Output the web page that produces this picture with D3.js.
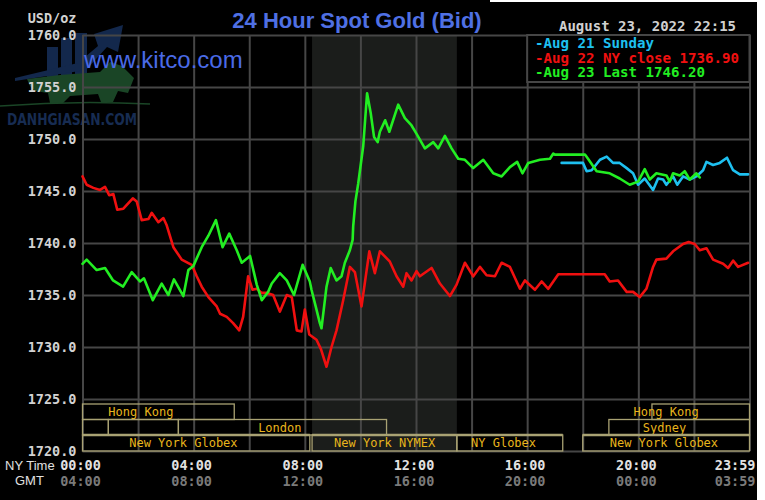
<!DOCTYPE html>
<html><head><meta charset="utf-8">
<script src="https://cdn.jsdelivr.net/npm/d3@7"></script>
<style>html,body{margin:0;padding:0;background:#fff;} svg{display:block}</style>
</head><body><svg id="c" width="765" height="500"></svg>
<script>
// ---------------- DATA ----------------
const yTicks = [1720, 1725, 1730, 1735, 1740, 1745, 1750, 1755, 1760];
const gridHours = [0, 2, 4, 6, 8, 10, 12, 14, 16, 18, 20, 22, 24];
const nyTimeLabels = [[0, "00:00"], [4, "04:00"], [8, "08:00"], [12, "12:00"], [16, "16:00"], [20, "20:00"], [24, "23:59"]];
const gmtLabels = [[0, "04:00"], [4, "08:00"], [8, "12:00"], [12, "16:00"], [16, "20:00"], [20, "00:00"], [24, "03:59"]];
const legendItems = [
  ["-Aug 21 Sunday", "#1ec0f0"],
  ["-Aug 22 NY close 1736.90", "#f01010"],
  ["-Aug 23 Last 1746.20", "#22ee22"]
];
const nymexHours = [8.26, 13.47];

// [hour (NY time), price]
const aug23 = [[0,1738.0],[0.15,1738.4],[0.51,1737.4],[0.81,1737.6],[1.10,1736.4],[1.46,1735.8],[1.77,1737.2],[2.07,1736.3],[2.21,1736.6],[2.53,1734.5],[2.85,1736.1],[3.09,1735.0],[3.29,1736.5],[3.63,1734.9],[3.81,1737.4],[3.99,1737.8],[4.29,1739.6],[4.53,1740.7],[4.80,1742.2],[5.04,1739.6],[5.28,1740.9],[5.55,1739.3],[5.73,1738.1],[6.03,1738.75],[6.27,1736.0],[6.45,1734.5],[6.68,1735.3],[6.81,1736.1],[7.10,1737.1],[7.35,1736.4],[7.61,1735.0],[7.92,1737.9],[8.18,1736.3],[8.24,1735.5],[8.42,1733.6],[8.54,1732.3],[8.60,1731.8],[8.78,1735.8],[8.93,1737.6],[9.14,1736.4],[9.32,1736.8],[9.44,1738.1],[9.62,1739.3],[9.72,1740.3],[9.74,1741.6],[9.82,1744.0],[9.92,1745.7],[10.10,1749.3],[10.24,1754.4],[10.37,1752.5],[10.49,1750.2],[10.62,1749.7],[10.70,1750.7],[10.89,1751.8],[11.04,1750.7],[11.36,1753.3],[11.60,1752.0],[11.84,1751.3],[12.02,1750.5],[12.32,1749.1],[12.62,1749.7],[12.80,1749.1],[13.04,1750.3],[13.28,1749.1],[13.52,1748.1],[13.76,1748.0],[14.06,1747.2],[14.42,1748.0],[14.78,1746.7],[15.08,1746.4],[15.38,1747.3],[15.64,1747.8],[15.83,1746.7],[16.04,1747.7],[16.46,1748.0],[16.82,1748.1],[16.94,1748.6],[17.00,1748.5],[18.08,1748.5],[18.19,1748.1],[18.50,1746.9],[18.97,1746.7],[19.33,1746.2],[19.69,1745.6],[19.99,1745.9],[20.23,1747.1],[20.41,1746.1],[20.65,1746.7],[21.01,1746.5],[21.13,1745.9],[21.25,1746.7],[21.49,1746.5],[21.67,1746.9],[21.85,1746.1],[22.09,1746.7],[22.21,1746.3]];

const aug22 = [[0,1746.4],[0.15,1745.6],[0.39,1745.3],[0.63,1745.1],[0.81,1745.4],[0.96,1744.6],[1.11,1744.7],[1.25,1743.2],[1.47,1743.3],[1.81,1744.3],[1.95,1744.0],[2.13,1742.2],[2.37,1742.3],[2.49,1742.9],[2.73,1742.0],[2.91,1742.4],[3.03,1741.7],[3.27,1739.6],[3.57,1738.4],[3.93,1737.9],[4.11,1736.8],[4.29,1735.8],[4.53,1734.8],[4.83,1733.9],[4.95,1733.2],[5.19,1732.9],[5.42,1732.3],[5.64,1731.6],[5.78,1732.9],[5.96,1736.8],[6.12,1735.5],[6.27,1735.6],[6.45,1735.2],[6.63,1735.2],[6.86,1735.0],[7.10,1733.4],[7.35,1735.0],[7.53,1734.8],[7.71,1731.6],[7.88,1731.5],[8.00,1733.6],[8.16,1731.2],[8.42,1730.7],[8.58,1729.8],[8.78,1728.1],[8.96,1730.0],[9.14,1731.6],[9.38,1734.5],[9.62,1737.7],[9.80,1737.2],[10.04,1733.9],[10.32,1739.2],[10.52,1737.1],[10.70,1739.2],[11.06,1738.2],[11.30,1736.8],[11.54,1735.8],[11.66,1737.1],[11.84,1736.4],[12.02,1737.3],[12.14,1736.8],[12.56,1737.6],[12.86,1736.1],[13.22,1734.9],[13.46,1736.0],[13.76,1738.1],[14.06,1736.8],[14.30,1737.7],[14.54,1736.9],[14.84,1736.8],[15.08,1738.1],[15.38,1737.7],[15.74,1735.6],[15.92,1736.4],[16.28,1735.5],[16.52,1736.3],[16.76,1735.6],[17.12,1737.0],[18.79,1737.0],[18.97,1736.3],[19.27,1736.4],[19.58,1735.3],[19.81,1735.3],[20.05,1734.8],[20.29,1735.6],[20.53,1737.7],[20.65,1738.4],[21.01,1738.5],[21.25,1739.2],[21.61,1739.9],[21.81,1740.1],[22.03,1739.9],[22.21,1739.3],[22.45,1739.5],[22.69,1738.4],[23.05,1738.0],[23.23,1737.6],[23.41,1738.3],[23.59,1737.7],[23.95,1738.1]];

const aug21 = [[17.24,1747.7],[18.01,1747.7],[18.14,1746.9],[18.32,1747.0],[18.62,1748.0],[18.86,1748.3],[19.09,1747.7],[19.33,1747.7],[19.58,1747.2],[19.81,1746.7],[19.99,1745.6],[20.23,1746.2],[20.53,1745.1],[20.71,1746.2],[20.89,1746.1],[21.01,1745.6],[21.25,1746.4],[21.40,1745.6],[21.61,1746.4],[21.85,1746.1],[22.09,1746.4],[22.33,1747.0],[22.45,1747.8],[22.69,1747.5],[22.93,1747.7],[23.19,1748.2],[23.41,1747.0],[23.65,1746.6],[23.95,1746.6]];

// trading sessions: [row, start hour, end hour, label, label hour]
const sessions = [
  [0, 0, 5.46, "Hong Kong", 2.1],
  [0, 20.49, 24, "Hong Kong", 21.0],
  [1, 0, 0.93, "", 0],
  [1, 0.93, 3.45, "", 0],
  [1, 3.45, 10.94, "London", 7.1],
  [1, 18.94, 24, "Sydney", 20.94],
  [2, 0, 8.18, "New York Globex", 3.63],
  [2, 8.26, 13.47, "New York NYMEX", 10.87],
  [2, 13.47, 17.28, "NY Globex", 15.15],
  [2, 18.0, 24, "New York Globex", 20.92]
];

// ---------------- DRAW ----------------
const svg = d3.select("#c");
const W = 765, H = 500;
svg.append("rect").attr("width", W).attr("height", H).attr("fill", "#fff");
svg.append("rect").attr("x", 0).attr("y", 0).attr("width", 757).attr("height", H).attr("fill", "#000");
svg.append("rect").attr("x", 490).attr("y", 0).attr("width", 275).attr("height", 2).attr("fill", "#fff");

const x = d3.scaleLinear().domain([0, 24]).range([82.5, 749.5]);
const y = d3.scaleLinear().domain([1720, 1760]).range([451, 35]);
const mono = "'DejaVu Sans Mono', 'Liberation Mono', monospace";

// NYMEX shaded area
svg.append("rect")
  .attr("x", x(nymexHours[0])).attr("y", y(1760))
  .attr("width", x(nymexHours[1]) - x(nymexHours[0]))
  .attr("height", y(1720) - y(1760))
  .attr("fill", "#1b1d1b");

// watermark logo (decorative)
const wm = svg.append("g");
wm.append("rect").attr("x", 47).attr("y", 47).attr("width", 11).attr("height", 30).attr("fill", "#13284c");
wm.append("rect").attr("x", 61).attr("y", 38).attr("width", 11).attr("height", 39).attr("fill", "#13284c");
wm.append("rect").attr("x", 75).attr("y", 33).attr("width", 12).attr("height", 44).attr("fill", "#13284c");
wm.append("polygon").attr("points", "15,78 78,63 98,46 94,34 123,25 118,52 107,47 86,70 15,81").attr("fill", "#13284c");
wm.append("polygon").attr("points", "27,79 60,75 100,72 110,62 122,66 134,78 128,93 118,91 113,102 101,102 98,94 70,96 63,103 50,103 48,93 35,91 30,86").attr("fill", "#1a4526");
wm.append("path").attr("d", "M0,106 Q75,100 150,104").attr("fill", "none").attr("stroke", "#1a4526").attr("stroke-width", 1.5);
wm.append("text").attr("x", 7).attr("y", 125).attr("font-family", "'DejaVu Sans Condensed','DejaVu Sans',sans-serif")
  .attr("font-weight", "bold").attr("font-size", 16).attr("textLength", 130).attr("lengthAdjust", "spacingAndGlyphs")
  .attr("fill", "#172c52").text("DANHGIASAN.COM");

// grid
const gridColor = "#464646";
const gy = svg.append("g").attr("transform", `translate(${x(0)},0)`)
  .call(d3.axisLeft(y).tickValues(yTicks).tickSize(-(x(24) - x(0))).tickFormat(""));
gy.select(".domain").remove();
gy.selectAll("line").attr("stroke", gridColor).attr("stroke-width", 2);

const gx = svg.append("g").attr("transform", `translate(0,${y(1720)})`)
  .call(d3.axisBottom(x).tickValues(gridHours).tickSize(-(y(1720) - y(1760))).tickFormat(""));
gx.select(".domain").remove();
gx.selectAll("line").attr("stroke", gridColor).attr("stroke-width", 2);

// y labels
const ya = svg.append("g").attr("transform", `translate(${x(0)},0)`)
  .call(d3.axisLeft(y).tickValues(yTicks).tickSize(0).tickPadding(6).tickFormat(d3.format(".1f")));
ya.select(".domain").remove();
ya.selectAll("text").attr("font-family", mono).attr("font-weight", "bold").attr("font-size", 13.5).attr("fill", "#d2d2d2");

svg.append("text").attr("x", 76.5).attr("y", 23).attr("text-anchor", "end")
  .attr("font-family", mono).attr("font-weight", "bold").attr("font-size", 13.5).attr("fill", "#d2d2d2").text("USD/oz");

// sessions
const boxStroke = "#a9a273", labelColor = "#e8b51c";
const rowTop = [404, 419.5, 435], rowBot = [419.5, 435, 451];
const sg = svg.append("g");
sessions.forEach(([row, s, e, name, lh]) => {
  sg.append("rect").attr("x", x(s)).attr("y", rowTop[row]).attr("width", x(e) - x(s)).attr("height", rowBot[row] - rowTop[row])
    .attr("fill", "none").attr("stroke", boxStroke).attr("stroke-width", 1.3);
  if (row === 2) {
    sg.append("line").attr("x1", x(s)).attr("x2", x(e)).attr("y1", rowTop[row]).attr("y2", rowTop[row])
      .attr("stroke", boxStroke).attr("stroke-width", 2.6);
  }
  if (name) {
    sg.append("text").attr("x", x(lh)).attr("y", (rowTop[row] + rowBot[row]) / 2 + 4.3)
      .attr("text-anchor", "middle").attr("font-family", mono).attr("font-size", 12).attr("fill", labelColor).text(name);
  }
});

// series lines
const line = d3.line().x(d => x(d[0])).y(d => y(d[1]));
[[aug21, "#1ec0f0"], [aug22, "#f01010"], [aug23, "#22ee22"]].forEach(([data, col]) => {
  svg.append("path").datum(data).attr("d", line).attr("fill", "none").attr("stroke", col)
    .attr("stroke-width", 2.6).attr("stroke-linejoin", "round").attr("stroke-linecap", "round");
});

// legend box
svg.append("rect").attr("x", x(16)).attr("y", 35).attr("width", x(24) - x(16)).attr("height", 47)
  .attr("fill", "#000").attr("stroke", gridColor).attr("stroke-width", 2);
legendItems.forEach(([t, c], i) => {
  svg.append("text").attr("x", 535).attr("y", 48 + i * 14.7).attr("font-family", mono).attr("font-weight", "bold")
    .attr("font-size", 14).attr("fill", c).attr("textLength", t.length * 8.5).attr("lengthAdjust", "spacingAndGlyphs").text(t);
});

// kitco text
svg.append("text").attr("x", 84).attr("y", 68).attr("font-family", "'Liberation Sans', Arial, sans-serif")
  .attr("font-size", 24).attr("fill", "#4a6ae6").text("www.kitco.com");

// title
svg.append("text").attr("x", 357).attr("y", 28).attr("text-anchor", "middle")
  .attr("font-family", "'Liberation Sans', Arial, sans-serif").attr("font-weight", "bold").attr("font-size", 22)
  .attr("fill", "#4f70e4").text("24 Hour Spot Gold (Bid)");

// date
svg.append("text").attr("x", 736).attr("y", 31).attr("text-anchor", "end")
  .attr("font-family", mono).attr("font-weight", "bold").attr("font-size", 14).attr("fill", "#d0d0d0")
  .attr("textLength", 177).attr("lengthAdjust", "spacingAndGlyphs").text("August 23, 2022 22:15");

// x labels
svg.append("text").attr("x", 5).attr("y", 470).attr("font-family", "'Liberation Sans', Arial, sans-serif")
  .attr("font-size", 13).attr("fill", "#e0e0e0").text("NY Time");
svg.append("text").attr("x", 15).attr("y", 485).attr("font-family", "'Liberation Sans', Arial, sans-serif")
  .attr("font-size", 13).attr("fill", "#e0e0e0").text("GMT");
function xLabels(arr, yy, col) {
  arr.forEach(([h, t]) => {
    const last = h === 24;
    svg.append("text").attr("x", last ? x(h) + 6 : x(h) - 2).attr("y", yy)
      .attr("text-anchor", last ? "end" : "middle").attr("font-family", mono).attr("font-weight", "bold")
      .attr("font-size", 13.5).attr("fill", col).text(t);
  });
}
xLabels(nyTimeLabels, 470, "#e2e2e2");
xLabels(gmtLabels, 486, "#7a7a7a");
</script></body></html>
